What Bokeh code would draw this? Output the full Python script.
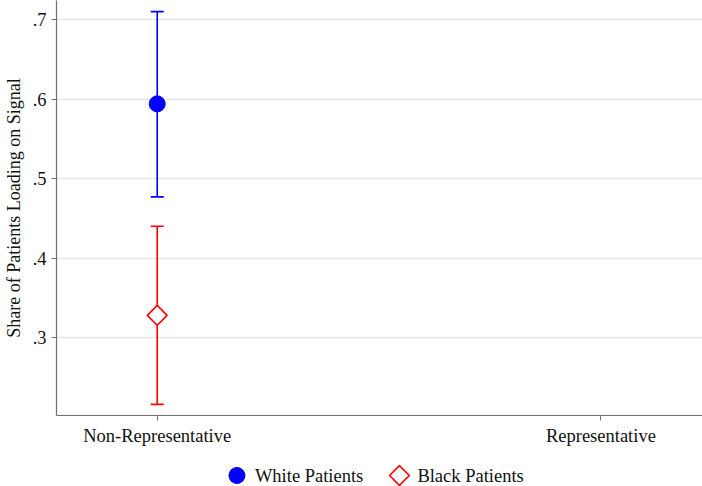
from math import pi
from bokeh.plotting import figure
from bokeh.layouts import column
from bokeh.models import ColumnDataSource, Whisker, TeeHead, FixedTicker, Range1d
from bokeh.core.properties import value
from bokeh.embed import file_html
from bokeh.resources import INLINE

categories = ["Non-Representative", "Representative"]
white_cat = ["Non-Representative"]
white_mean = [0.594]
white_lo = [0.477]
white_hi = [0.710]
black_cat = ["Non-Representative"]
black_mean = [0.328]
black_lo = [0.216]
black_hi = [0.440]
y_ticks = [0.3, 0.4, 0.5, 0.6, 0.7]
y_tick_labels = [".3", ".4", ".5", ".6", ".7"]
legend_labels = ["White Patients", "Black Patients"]

FONT = "Liberation Serif"
BLUE = "#0000ff"
RED = "#ff0000"
FRAME_LEFT = 54

pos = {c: i for i, c in enumerate(categories)}

p = figure(width=702, height=450, output_backend="svg", toolbar_location=None,
           x_range=Range1d(-0.227, 1.229), y_range=Range1d(0.202, 0.724))
p.min_border_left = FRAME_LEFT
p.min_border_right = 0
p.min_border_top = 0
p.min_border_bottom = 35
p.outline_line_color = None
p.background_fill_color = "white"
p.border_fill_color = "white"

wsrc = ColumnDataSource(dict(x=[pos[c] for c in white_cat], y=white_mean,
                             lo=white_lo, hi=white_hi))
bsrc = ColumnDataSource(dict(x=[pos[c] for c in black_cat], y=black_mean,
                             lo=black_lo, hi=black_hi))

for src, col in ((wsrc, BLUE), (bsrc, RED)):
    w = Whisker(base="x", lower="lo", upper="hi", source=src, dimension="height",
                line_color=col, line_width=1.6,
                upper_head=TeeHead(size=13, line_color=col, line_width=1.6),
                lower_head=TeeHead(size=13, line_color=col, line_width=1.6))
    p.add_layout(w)

white_style = dict(marker="circle", size=16, fill_color=BLUE, line_color=BLUE)
black_style = dict(marker="square", size=14, angle=pi / 4, fill_color="white",
                   line_color=RED, line_width=1.6)
p.scatter("x", "y", source=wsrc, **white_style)
p.scatter("x", "y", source=bsrc, **black_style)

# axes
p.xaxis.ticker = FixedTicker(ticks=list(range(len(categories))))
p.xaxis.major_label_overrides = {i: c for i, c in enumerate(categories)}
p.yaxis.ticker = FixedTicker(ticks=y_ticks)
p.yaxis.major_label_overrides = {t: l for t, l in zip(y_ticks, y_tick_labels)}
p.yaxis.axis_label = "Share of Patients Loading on Signal"

for ax in (p.xaxis[0], p.yaxis[0]):
    ax.axis_line_color = "#707070"
    ax.axis_line_width = 1.2
    ax.major_tick_line_color = "#707070"
    ax.major_tick_in = 0
    ax.major_tick_out = 5
    ax.minor_tick_line_color = None
    ax.major_label_text_font = FONT
    ax.major_label_text_font_size = "18.5px"
    ax.major_label_text_color = "#111111"
    ax.axis_label_text_font = FONT
    ax.axis_label_text_font_size = "18px"
    ax.axis_label_text_font_style = "normal"
    ax.axis_label_text_color = "#111111"
p.yaxis.major_label_orientation = "horizontal"
p.yaxis.major_label_standoff = 5
p.yaxis.axis_label_standoff = 6
p.xaxis.major_label_standoff = 5

p.xgrid.grid_line_color = None
p.ygrid.grid_line_color = "#e6e6e6"
p.ygrid.grid_line_width = 1.3
p.ygrid.ticker = FixedTicker(ticks=y_ticks)

# legend strip (key glyphs + labels); its frame is aligned with the main
# plot's frame by the column layout, so its x units are page pixels
lg = figure(width=702, height=36, output_backend="svg", toolbar_location=None,
            x_range=Range1d(FRAME_LEFT, 702), y_range=Range1d(0, 36),
            x_axis_location=None, y_axis_location=None)
lg.min_border_left = FRAME_LEFT
lg.min_border_right = 0
lg.min_border_top = 0
lg.min_border_bottom = 0
lg.grid.visible = False
lg.outline_line_color = None
lg.border_fill_color = "white"

key_x = [235, 398]
key_y = 11
text_gap = 18
styles = [white_style, black_style]
for kx, lab, st in zip(key_x, legend_labels, styles):
    lg.scatter(x=[kx], y=[key_y], **st)
    lg.text(x=[kx + text_gap], y=[key_y], text=[lab], text_font=value(FONT),
            text_font_size="18.5px", text_baseline="middle", text_color="#111111")

layout = column(p, lg, spacing=0)
open("out.html", "w").write(file_html(layout, INLINE))
